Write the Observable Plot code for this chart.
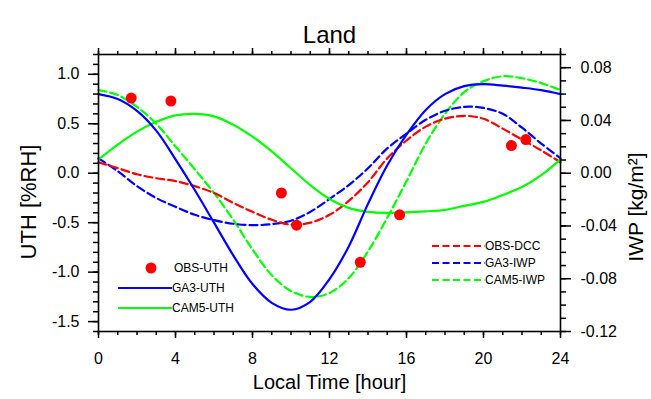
<!DOCTYPE html>
<html><head><meta charset="utf-8">
<script src="https://cdn.jsdelivr.net/npm/d3@7"></script>
<script src="https://cdn.jsdelivr.net/npm/@observablehq/plot@0.6"></script>
<style>
body{margin:0;background:#fff;}
#chart{width:651px;height:399px;}
</style></head><body><div id="chart"></div>
<script>
// ---- data ----
const hours = [0,1,2,3,4,5,6,7,8,9,10,11,12,13,14,15,16,17,18,19,20,21,22,23,24];
// UTH anomalies [%RH]
const ga3Uth  = [0.80,0.75,0.63,0.43,0.14,-0.17,-0.50,-0.83,-1.12,-1.31,-1.38,-1.30,-1.07,-0.74,-0.31,0.08,0.39,0.64,0.80,0.88,0.90,0.885,0.865,0.84,0.80];
const cam5Uth = [0.14,0.29,0.42,0.52,0.585,0.60,0.575,0.49,0.37,0.22,0.05,-0.12,-0.26,-0.35,-0.39,-0.40,-0.395,-0.385,-0.37,-0.33,-0.29,-0.22,-0.14,-0.02,0.14];
// IWP / DCC anomalies [kg/m2]
const obsDcc  = [0.0083,0.0038,-0.0008,-0.0038,-0.0060,-0.0098,-0.0150,-0.0225,-0.0293,-0.0353,-0.0390,-0.0375,-0.0315,-0.0210,-0.0068,0.0113,0.0248,0.0353,0.0413,0.0435,0.0413,0.0338,0.0255,0.0173,0.0083];
const ga3Iwp  = [0.0113,0.0015,-0.0098,-0.0188,-0.0255,-0.0315,-0.0356,-0.0383,-0.0394,-0.0386,-0.0360,-0.0293,-0.0195,-0.0090,0.0038,0.0188,0.0300,0.0405,0.0473,0.0503,0.0495,0.0450,0.0345,0.0225,0.0113];
const cam5Iwp = [0.0630,0.0593,0.0503,0.0375,0.0203,0.0030,-0.0150,-0.0353,-0.0578,-0.0773,-0.0893,-0.0938,-0.0908,-0.0795,-0.0593,-0.0338,-0.0060,0.0225,0.0450,0.0615,0.0698,0.0735,0.0720,0.0683,0.0630];
// observed UTH points
const obsUthHour  = [1.70,3.76,9.50,10.29,13.60,15.64,21.45,22.20];
const obsUthValue = [0.76,0.73,-0.20,-0.525,-0.90,-0.42,0.28,0.34];
// ticks
const hourTicks = [0,4,8,12,16,20,24];
const uthTicks  = [-1.5,-1.0,-0.5,0.0,0.5,1.0];
const iwpTicks  = [-0.12,-0.08,-0.04,0.00,0.04,0.08];
const uthDomain = [-1.6,1.2];
const iwpDomain = [-0.12,0.09];

// ---- build ----
const k = (uthDomain[1]-uthDomain[0])/(iwpDomain[1]-iwpDomain[0]);
const rows = hours.map((h,i)=>({h, ga3Uth:ga3Uth[i], cam5Uth:cam5Uth[i], obsDcc:obsDcc[i], ga3Iwp:ga3Iwp[i], cam5Iwp:cam5Iwp[i]}));
const obs = obsUthHour.map((h,i)=>({h, v:obsUthValue[i]}));
const minorHours = d3.range(0,25,1);
const minorUth = d3.range(-16,13,1).map(v=>v/10);
const minorIwp = d3.range(-12,10,1).map(v=>v/100*k);

const RED="#ff0000", BLUE="#0000ff", GREEN="#00ff00";
const FONT = "'Liberation Sans', Arial, Helvetica, sans-serif";
const dash = "8,4";

const plot = Plot.plot({
  width:651, height:399,
  marginLeft:98, marginRight:91, marginTop:54, marginBottom:68,
  style:{fontFamily:FONT, fontSize:"16px", color:"black", background:"white"},
  x:{domain:[0,24]},
  y:{domain:uthDomain},
  marks:[
    Plot.line(rows,{x:"h", y:d=>d.cam5Iwp*k, stroke:GREEN, strokeWidth:2.2, strokeDasharray:dash, curve:"catmull-rom"}),
    Plot.line(rows,{x:"h", y:d=>d.ga3Iwp*k, stroke:BLUE, strokeWidth:2.2, strokeDasharray:dash, curve:"catmull-rom"}),
    Plot.line(rows,{x:"h", y:d=>d.obsDcc*k, stroke:RED, strokeWidth:2.2, strokeDasharray:dash, curve:"catmull-rom"}),
    Plot.line(rows,{x:"h", y:"cam5Uth", stroke:GREEN, strokeWidth:2.2, curve:"catmull-rom"}),
    Plot.line(rows,{x:"h", y:"ga3Uth", stroke:BLUE, strokeWidth:2.2, curve:"catmull-rom"}),
    Plot.dot(obs,{x:"h", y:"v", r:5.5, fill:RED, stroke:"none"}),
    Plot.axisY(uthTicks,{anchor:"left", tickSize:10, tickPadding:9, strokeWidth:1.5, tickFormat:d=>d.toFixed(1), fontSize:16, label:null}),
    Plot.axisY(minorUth,{anchor:"left", tickSize:5, strokeWidth:1.5, fill:"none", label:null}),
    Plot.axisY(iwpTicks.map(v=>v*k),{anchor:"right", tickSize:10, tickPadding:10, strokeWidth:1.5, tickFormat:d=>(d/k).toFixed(2), fontSize:16, label:null}),
    Plot.axisY(minorIwp,{anchor:"right", tickSize:5, strokeWidth:1.5, fill:"none", label:null}),
    Plot.axisX(hourTicks,{anchor:"bottom", tickSize:7, tickPadding:14, strokeWidth:1.5, tickFormat:d=>String(d), fontSize:16, label:null}),
    Plot.axisX(minorHours,{anchor:"bottom", tickSize:4, strokeWidth:1.5, fill:"none", label:null}),
    Plot.axisX(hourTicks,{anchor:"top", tickSize:7, strokeWidth:1.5, fill:"none", label:null}),
    Plot.axisX(minorHours,{anchor:"top", tickSize:4, strokeWidth:1.5, fill:"none", label:null}),
    Plot.frame({stroke:"black", strokeWidth:1.6}),
    Plot.text(["Land"],{frameAnchor:"top", dy:-29, fontSize:24}),
    Plot.text(["Local Time [hour]"],{frameAnchor:"bottom", dy:57, fontSize:20}),
    Plot.text(["UTH [%RH]"],{frameAnchor:"left", textAnchor:"middle", dx:-70, dy:9, rotate:-90, fontSize:22}),
    Plot.text(["IWP [kg/m²]"],{frameAnchor:"right", textAnchor:"middle", dx:76, dy:14, rotate:-90, fontSize:21})
  ]
});

// ---- legends ----
const svg = d3.select(plot);
const leftLegend = [
  {label:"OBS-UTH", color:RED, kind:"dot"},
  {label:"GA3-UTH", color:BLUE, kind:"line"},
  {label:"CAM5-UTH", color:GREEN, kind:"line"}
];
const rightLegend = [
  {label:"OBS-DCC", color:RED},
  {label:"GA3-IWP", color:BLUE},
  {label:"CAM5-IWP", color:GREEN}
];
const gL = svg.append("g").attr("font-family",FONT).attr("font-size",12).attr("text-anchor","start");
leftLegend.forEach((d,i)=>{
  const y = 268 + i*20;
  if (d.kind==="dot") {
    gL.append("circle").attr("cx",151).attr("cy",y).attr("r",5.5).attr("fill",d.color);
    gL.append("text").attr("x",174).attr("y",y).attr("dy","0.35em").text(d.label);
  } else {
    gL.append("line").attr("x1",118).attr("x2",172).attr("y1",y).attr("y2",y).attr("stroke",d.color).attr("stroke-width",2.2);
    gL.append("text").attr("x",172).attr("y",y).attr("dy","0.35em").text(d.label);
  }
});
const gR = svg.append("g").attr("font-family",FONT).attr("font-size",12).attr("text-anchor","start");
rightLegend.forEach((d,i)=>{
  const y = 246 + i*17;
  gR.append("line").attr("x1",432).attr("x2",485).attr("y1",y).attr("y2",y).attr("stroke",d.color).attr("stroke-width",2.2).attr("stroke-dasharray","7,3.5");
  gR.append("text").attr("x",485).attr("y",y).attr("dy","0.35em").text(d.label);
});

document.getElementById("chart").appendChild(plot);
</script></body></html>
